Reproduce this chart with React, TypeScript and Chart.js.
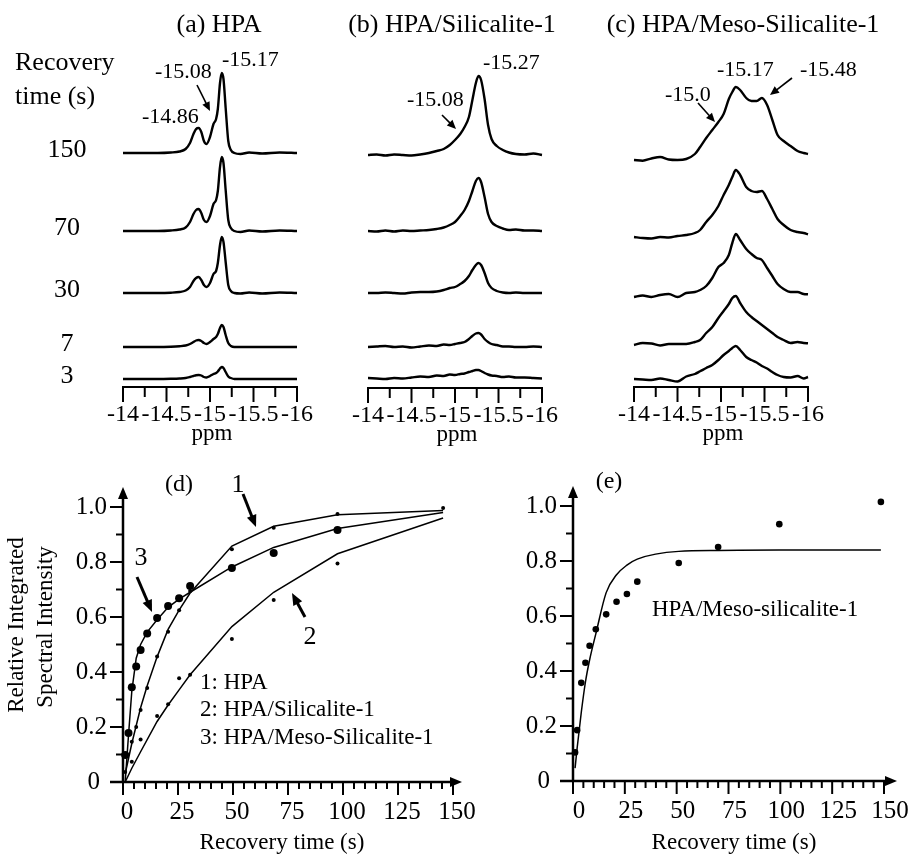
import React, { useEffect, useRef } from 'react';
import { Chart, registerables } from 'chart.js';

Chart.register(...registerables);

const W = 915;
const H = 854;
const SERIF = '"Liberation Serif", "Times New Roman", Times, serif';

// ================= DATA =================
// Recovery times labelling the stacked spectra (top to bottom)
const recoveryLabels = ['150', '70', '30', '7', '3'];

// (a) HPA  – chemical shift (ppm) and intensities (a.u.) per recovery time
const ppmA = [-14, -14.2, -14.4, -14.55, -14.65, -14.72, -14.77, -14.81, -14.84, -14.87, -14.9, -14.93, -14.96, -15.0, -15.04, -15.07, -15.09, -15.115, -15.135, -15.155, -15.18, -15.21, -15.24, -15.28, -15.35, -15.45, -15.6, -15.8, -16];
const hpa150 = [0, 0, 0, 0.5, 1.5, 4, 10, 19, 24, 25, 21, 12, 9, 16, 29, 34, 44, 70, 80, 74, 45, 12, 3, 0, -1, 0.5, -0.5, 0.5, 0];
const hpa70 = [0, 0, 0, 0.5, 1.5, 3.5, 9, 17, 21, 22, 18, 11, 9, 15, 27, 31, 40, 64, 74, 68, 41, 11, 3, 0, -1, 0.5, -0.5, 0.5, 0];
const hpa30 = [0, 0, 0, 0.3, 1, 2.5, 6, 12, 15, 16, 13, 8, 6, 10, 19, 22, 30, 48, 56, 51, 31, 8, 2, 0, -0.5, 0.5, -0.5, 0.5, 0];
const hpa7 = [0, 0, 0, 0.3, 0.8, 1.5, 3, 5, 6.5, 7, 6, 4, 3, 5, 8, 10, 13, 19, 22, 20, 12, 4, 1, 0, 0, 0, 0, 0, 0];
const hpa3 = [0, 0, 0, 0.2, 0.5, 1, 2, 3, 3.8, 4, 3.5, 2, 1.5, 3, 5, 6, 7.5, 10.5, 12, 11, 7, 2.5, 1, 0, 0, 0, 0, 0, 0];

// (b) HPA/Silicalite-1
const ppmB = [-14, -14.1, -14.2, -14.3, -14.4, -14.5, -14.6, -14.7, -14.79, -14.87, -14.94, -15.0, -15.06, -15.11, -15.16, -15.2, -15.24, -15.27, -15.3, -15.34, -15.38, -15.42, -15.48, -15.55, -15.62, -15.7, -15.8, -15.9, -16];
const sil150 = [0, 0.5, -0.5, 0.5, 0, -0.5, 0.5, 2, 4, 6, 10, 15, 21, 28, 38, 55, 72, 79, 75, 56, 30, 16, 9, 5, 2.5, 1, 0.5, 1.5, 0];
const sil70 = [0, -0.5, 0.5, -0.5, 0.5, 0, 0.5, 1, 2, 3.5, 6, 9, 15, 21, 30, 40, 50, 53, 49, 34, 17, 9, 5, 2.5, 1, 1.5, 0.5, 0.5, 0];
const sil30 = [0, 0, 0.5, 0, -0.5, 0.5, 1, 1, 1.5, 3, 5, 6, 9, 12, 17, 23, 28, 30, 28, 20, 10, 5, 2, 0.5, 0, 0.5, 0, 0, 0];
const sil7 = [0, 0.5, 1, 0, 0.5, -0.5, 0.5, 1.5, 1, 2.5, 2, 3, 4, 5, 8, 11, 13.5, 14, 12.5, 8, 5, 3, 2, 0.5, 0.5, 0, 0, 0.5, 0];
const sil3 = [0, -0.5, -1, 0, -0.5, 0.5, 1.5, 1, 2.5, 2, 3.5, 3, 4, 4.5, 6, 7, 8, 8, 7, 5, 3.5, 2.5, 2, 1, 1.5, 0.5, 0.5, 0, -0.5];

// (c) HPA/Meso-Silicalite-1
const ppmC = [-14, -14.1, -14.2, -14.3, -14.4, -14.5, -14.6, -14.7, -14.76, -14.83, -14.9, -14.97, -15.03, -15.09, -15.13, -15.17, -15.22, -15.29, -15.35, -15.41, -15.47, -15.53, -15.59, -15.65, -15.72, -15.8, -15.88, -15.95, -16];
const meso150 = [0, -0.7, 1.5, 3, 0.5, 0, 1, 6, 13, 22, 30, 38, 46, 61, 68, 73, 70, 62, 59, 59, 62, 55, 40, 25, 19, 14, 9, 7, 6];
const meso70 = [0, -1, -1.5, 0, -0.5, 1, 2, 4, 7, 15, 22, 31, 42, 52, 60, 67, 62, 50, 46, 45, 46, 38, 28, 18, 12, 7, 5, 4, 2.7];
const meso30 = [0, 1.5, 0, 2, 3, 0, 4, 5, 7, 11, 19, 30, 34, 42, 54, 63, 57, 48, 43, 39, 37, 29, 21, 13, 8, 5, 5, 3, 2.7];
const meso7 = [0, 2, 1.5, -0.5, 1, 1, 1, 3, 5, 12, 18, 27, 34, 41, 47, 49, 42, 33, 28, 24, 20, 16, 12, 8, 5, 2, 3, 2, 1.7];
const meso3 = [0, -0.5, -1, 0.5, -1, -2.5, 2.5, 5, 7.7, 11, 14, 19, 24, 28, 31, 33, 29, 22, 19, 16.5, 13, 10.5, 7, 4, 2, 1.5, 3, 0.5, 2];

// (d) relative integrated intensity vs recovery time (s)
const timeD = [1, 2.5, 4, 6, 8, 11, 15.5, 20.5, 25.5, 30.5, 49.5, 68.5, 97.5, 145.5];
const hpaDotsD = [0.036, null, 0.146, 0.2, 0.262, 0.342, 0.456, 0.546, 0.625, 0.695, 0.846, 0.925, 0.975, 0.996];
const silDotsD = [null, null, 0.074, null, 0.155, null, 0.24, 0.283, 0.377, 0.39, 0.52, 0.662, 0.795, null];
const mesoDotsD = [0.098, 0.178, 0.345, 0.42, 0.48, 0.54, 0.596, 0.64, 0.668, 0.713, 0.778, 0.833, 0.916, null];
const fitHpaT = [1, 4, 8, 11, 15.5, 20.5, 25.5, 30.5, 49.5, 68.5, 97.5, 145.5];
const fitHpaV = [0.03, 0.14, 0.27, 0.35, 0.455, 0.555, 0.625, 0.687, 0.858, 0.93, 0.972, 0.987];
const fitSilT = [1, 4, 8, 15.5, 20.5, 25.5, 30.5, 49.5, 68.5, 97.5, 145.5];
const fitSilV = [0.0, 0.05, 0.11, 0.22, 0.28, 0.335, 0.39, 0.565, 0.69, 0.83, 0.96];
const fitMesoT = [1, 2.5, 4, 6, 8, 11, 15.5, 20.5, 25.5, 30.5, 49.5, 68.5, 97.5, 145.5];
const fitMesoV = [0.0, 0.17, 0.33, 0.45, 0.5, 0.545, 0.59, 0.635, 0.665, 0.69, 0.782, 0.853, 0.922, 0.98];

// (e) HPA/Meso-silicalite-1
const timeE = [1, 2, 4, 6, 8, 11, 16, 21, 26, 31, 51, 70, 99.5, 148.5];
const mesoDotsE = [0.104, 0.185, 0.357, 0.43, 0.492, 0.552, 0.606, 0.652, 0.68, 0.725, 0.793, 0.851, 0.934, 1.015];
const fitET = [1, 2, 4, 6, 8, 11, 16, 21, 26, 31, 51, 70, 99.5, 148.5];
const fitEV = [0.047, 0.12, 0.25, 0.36, 0.44, 0.535, 0.685, 0.75, 0.785, 0.807, 0.835, 0.838, 0.84, 0.84];

// tick labels
const ppmTickValues = [-14, -14.25, -14.5, -14.75, -15, -15.25, -15.5, -15.75, -16];
const ppmTickLabels = ['-14', '', '-14.5', '', '-15', '', '-15.5', '', '-16'];
const timeTickLabels = ['0', '25', '50', '75', '100', '125', '150'];
const intensityTickLabels = ['0', '0.2', '0.4', '0.6', '0.8', '1.0'];

// ================= LAYOUT =================
type Area = { l: number; t: number; r: number; b: number };
type Ann = { t: string; x: number; y: number; size: number; align?: CanvasTextAlign; rot?: number };
type Arr = { x1: number; y1: number; x2: number; y2: number; w: number; head: number; hw: number };

// vertical stacking of traces (units above the ppm axis)
const STACK_A = [234, 156, 94, 40, 8];
const STACK_B = [233, 157, 95, 41, 10];
const STACK_C = [227, 150, 90, 42, 8];

// kinetic plots: y range shown above 1.0 so that points slightly above 1 are kept
const KIN_YMAX = 1.1;
const KIN_UNIT = 275; // px per 1.0 of intensity

function drawText(ctx: CanvasRenderingContext2D, a: Ann) {
  ctx.save();
  ctx.font = `${a.size}px ${SERIF}`;
  ctx.fillStyle = '#000';
  ctx.textAlign = a.align ?? 'center';
  ctx.textBaseline = 'middle';
  if (a.rot) {
    ctx.translate(a.x, a.y);
    ctx.rotate(a.rot);
    ctx.fillText(a.t, 0, 0);
  } else {
    ctx.fillText(a.t, a.x, a.y);
  }
  ctx.restore();
}

function drawArrow(ctx: CanvasRenderingContext2D, a: Arr) {
  const dx = a.x2 - a.x1;
  const dy = a.y2 - a.y1;
  const L = Math.hypot(dx, dy);
  const ux = dx / L;
  const uy = dy / L;
  const bx = a.x2 - ux * a.head;
  const by = a.y2 - uy * a.head;
  ctx.save();
  ctx.strokeStyle = '#000';
  ctx.fillStyle = '#000';
  ctx.lineWidth = a.w;
  ctx.lineCap = 'butt';
  ctx.beginPath();
  ctx.moveTo(a.x1, a.y1);
  ctx.lineTo(bx + ux, by + uy);
  ctx.stroke();
  ctx.beginPath();
  ctx.moveTo(a.x2, a.y2);
  ctx.lineTo(bx - uy * a.hw, by + ux * a.hw);
  ctx.lineTo(bx + uy * a.hw, by - ux * a.hw);
  ctx.closePath();
  ctx.fill();
  ctx.restore();
}

function seg(ctx: CanvasRenderingContext2D, x1: number, y1: number, x2: number, y2: number, w: number) {
  ctx.save();
  ctx.strokeStyle = '#000';
  ctx.lineWidth = w;
  ctx.lineCap = 'butt';
  ctx.beginPath();
  ctx.moveTo(x1, y1);
  ctx.lineTo(x2, y2);
  ctx.stroke();
  ctx.restore();
}

type SpectraPanel = {
  key: string;
  area: Area;
  ppm: number[];
  traces: number[][];
  stack: number[];
  anns: Ann[];
  arrows: Arr[];
  rowLabels?: boolean;
};

const PANELS: SpectraPanel[] = [
  {
    key: 'a',
    area: { l: 123, t: 57, r: 297, b: 387 },
    ppm: ppmA,
    traces: [hpa150, hpa70, hpa30, hpa7, hpa3],
    stack: STACK_A,
    rowLabels: true,
    anns: [
      { t: '(a) HPA', x: 219, y: 25, size: 26 },
      { t: 'Recovery', x: 15, y: 63, size: 26, align: 'left' },
      { t: 'time (s)', x: 15, y: 97, size: 26, align: 'left' },
      { t: '-15.17', x: 222, y: 60, size: 22, align: 'left' },
      { t: '-15.08', x: 155, y: 72, size: 22, align: 'left' },
      { t: '-14.86', x: 142, y: 117, size: 22, align: 'left' },
    ],
    arrows: [{ x1: 197, y1: 85, x2: 210, y2: 111, w: 1.6, head: 9, hw: 4 }],
  },
  {
    key: 'b',
    area: { l: 368, t: 58, r: 542, b: 388 },
    ppm: ppmB,
    traces: [sil150, sil70, sil30, sil7, sil3],
    stack: STACK_B,
    anns: [
      { t: '(b) HPA/Silicalite-1', x: 452, y: 25, size: 26 },
      { t: '-15.27', x: 483, y: 63, size: 22, align: 'left' },
      { t: '-15.08', x: 407, y: 100, size: 22, align: 'left' },
    ],
    arrows: [{ x1: 442, y1: 115, x2: 456, y2: 129, w: 1.6, head: 9, hw: 4 }],
  },
  {
    key: 'c',
    area: { l: 634, t: 57, r: 808, b: 387 },
    ppm: ppmC,
    traces: [meso150, meso70, meso30, meso7, meso3],
    stack: STACK_C,
    anns: [
      { t: '(c) HPA/Meso-Silicalite-1', x: 743, y: 25, size: 26 },
      { t: '-15.17', x: 717, y: 70, size: 22, align: 'left' },
      { t: '-15.48', x: 800, y: 70, size: 22, align: 'left' },
      { t: '-15.0', x: 665, y: 95, size: 22, align: 'left' },
    ],
    arrows: [
      { x1: 698, y1: 103, x2: 715, y2: 122, w: 1.6, head: 9, hw: 4 },
      { x1: 792, y1: 78, x2: 770, y2: 95, w: 1.6, head: 9, hw: 4 },
    ],
  },
];

function spectraPlugin(p: SpectraPanel) {
  return {
    id: 'spectraDecor' + p.key,
    afterDraw(chart: any) {
      const ctx: CanvasRenderingContext2D = chart.ctx;
      const xs = chart.scales.x;
      const ys = chart.scales.y;
      const y0 = ys.getPixelForValue(0);
      seg(ctx, xs.getPixelForValue(-14) - 1, y0, xs.getPixelForValue(-16) + 1, y0, 2.2);
      ppmTickValues.forEach((v, i) => {
        const px = xs.getPixelForValue(v);
        const major = ppmTickLabels[i] !== '';
        seg(ctx, px, y0, px, y0 + (major ? 15 : 10), 2);
        if (major) drawText(ctx, { t: ppmTickLabels[i], x: px, y: y0 + 28, size: 24 });
      });
      drawText(ctx, { t: 'ppm', x: xs.getPixelForValue(-15) + 2, y: y0 + 47, size: 23 });
      if (p.rowLabels) {
        recoveryLabels.forEach((lab, k) => {
          drawText(ctx, { t: lab, x: 67, y: ys.getPixelForValue(p.stack[k]) - 3, size: 26 });
        });
      }
      p.anns.forEach((a) => drawText(ctx, a));
      p.arrows.forEach((a) => drawArrow(ctx, a));
    },
  };
}

type KineticPanel = {
  key: string;
  x0: number; // pixel of t = 0
  x150: number; // pixel of t = 150
  y0: number; // pixel of intensity 0
  xTip: number;
  labelOffset: number;
  datasets: any[];
  anns: Ann[];
  arrows: Arr[];
};

const dots = (t: number[], v: (number | null)[], r: number) => ({
  data: t.map((x, i) => ({ x, y: v[i] })).filter((p) => p.y !== null),
  showLine: false,
  pointRadius: r,
  pointHoverRadius: r,
  pointBackgroundColor: '#000',
  pointBorderColor: '#000',
  pointBorderWidth: 0,
  clip: false,
});

const fit = (t: number[], v: number[], smooth: boolean) => ({
  data: t.map((x, i) => ({ x, y: v[i] })),
  showLine: true,
  borderColor: '#000',
  borderWidth: 1.5,
  pointRadius: 0,
  pointHoverRadius: 0,
  tension: 0,
  cubicInterpolationMode: smooth ? 'monotone' : 'default',
  fill: false,
  clip: false,
});

const KINETIC: KineticPanel[] = [
  {
    key: 'd',
    x0: 123,
    x150: 453,
    y0: 782,
    xTip: 462,
    labelOffset: 4,
    datasets: [
      fit(fitHpaT, fitHpaV, false),
      fit(fitSilT, fitSilV, false),
      fit(fitMesoT, fitMesoV, false),
      dots(timeD, hpaDotsD, 2),
      dots(timeD, silDotsD, 2),
      dots(timeD, mesoDotsD, 4),
    ],
    anns: [
      { t: '(d)', x: 179, y: 485, size: 24 },
      { t: '1', x: 238, y: 485, size: 26 },
      { t: '3', x: 141, y: 558, size: 26 },
      { t: '2', x: 310, y: 637, size: 26 },
      { t: '1: HPA', x: 200, y: 683, size: 23, align: 'left' },
      { t: '2: HPA/Silicalite-1', x: 200, y: 710, size: 23, align: 'left' },
      { t: '3: HPA/Meso-Silicalite-1', x: 200, y: 738, size: 23, align: 'left' },
      { t: 'Relative Integrated', x: 17, y: 625, size: 23, rot: -Math.PI / 2 },
      { t: 'Spectral Intensity', x: 46, y: 627, size: 23, rot: -Math.PI / 2 },
      { t: 'Recovery time (s)', x: 282, y: 843, size: 23 },
    ],
    arrows: [
      { x1: 243, y1: 494, x2: 256, y2: 527, w: 3, head: 12, hw: 5 },
      { x1: 137, y1: 577, x2: 152, y2: 612, w: 3, head: 12, hw: 5 },
      { x1: 305, y1: 617, x2: 292, y2: 593, w: 3, head: 12, hw: 5 },
    ],
  },
  {
    key: 'e',
    x0: 573,
    x150: 884,
    y0: 781,
    xTip: 897,
    labelOffset: 6,
    datasets: [fit(fitET, fitEV, true), dots(timeE, mesoDotsE, 3.3)],
    anns: [
      { t: '(e)', x: 609, y: 482, size: 24 },
      { t: 'HPA/Meso-silicalite-1', x: 652, y: 610, size: 23, align: 'left' },
      { t: 'Recovery time (s)', x: 734, y: 843, size: 23 },
    ],
    arrows: [],
  },
];

function kineticPlugin(p: KineticPanel) {
  return {
    id: 'kineticDecor' + p.key,
    afterDraw(chart: any) {
      const ctx: CanvasRenderingContext2D = chart.ctx;
      const xs = chart.scales.x;
      const ys = chart.scales.y;
      const x0 = xs.getPixelForValue(0);
      const y0 = ys.getPixelForValue(0);
      const yTip = ys.getPixelForValue(1) - 20;
      // axes
      seg(ctx, x0 - 13, y0, p.xTip - 10, y0, 2.5);
      seg(ctx, x0, y0, x0, yTip + 10, 2.5);
      drawArrow(ctx, { x1: p.xTip - 12, y1: y0, x2: p.xTip, y2: y0, w: 2.5, head: 12, hw: 5 });
      drawArrow(ctx, { x1: x0, y1: yTip + 12, x2: x0, y2: yTip, w: 2.5, head: 12, hw: 5 });
      // x ticks
      for (let t = 0; t <= 150; t += 5) {
        const px = xs.getPixelForValue(t);
        const major = t % 25 === 0;
        seg(ctx, px, y0, px, y0 + (major ? 13 : 7), 2);
      }
      timeTickLabels.forEach((lab, i) => {
        const px = xs.getPixelForValue(i * 25);
        drawText(ctx, { t: lab, x: px + p.labelOffset, y: y0 + 30, size: 25 });
      });
      // y ticks
      for (let k = 1; k <= 10; k++) {
        const py = ys.getPixelForValue(k / 10);
        const major = k % 2 === 0;
        seg(ctx, x0 - (major ? 13 : 7), py, x0, py, 2);
      }
      intensityTickLabels.forEach((lab, i) => {
        const py = ys.getPixelForValue(i * 0.2);
        const right = i === 0 ? x0 - 23 : x0 - 16;
        drawText(ctx, { t: lab, x: right, y: py, size: 25, align: 'right' });
      });
      p.anns.forEach((a) => drawText(ctx, a));
      p.arrows.forEach((a) => drawArrow(ctx, a));
    },
  };
}

function baseOptions(area: Area, x: any, y: any) {
  return {
    animation: false,
    responsive: false,
    maintainAspectRatio: false,
    devicePixelRatio: 1,
    events: [],
    layout: { padding: { left: area.l, top: area.t, right: W - area.r, bottom: H - area.b } },
    scales: { x: { type: 'linear', display: false, ...x }, y: { type: 'linear', display: false, ...y } },
    plugins: { legend: { display: false }, tooltip: { enabled: false }, title: { display: false } },
  };
}

function buildSpectra(canvas: HTMLCanvasElement, p: SpectraPanel) {
  const datasets = p.traces.map((vals, k) => ({
    data: p.ppm.map((x, i) => ({ x, y: p.stack[k] + vals[i] })),
    showLine: true,
    borderColor: '#000',
    borderWidth: 2.4,
    pointRadius: 0,
    pointHoverRadius: 0,
    cubicInterpolationMode: 'monotone',
    fill: false,
    clip: false,
  }));
  return new Chart(canvas, {
    type: 'scatter',
    data: { datasets },
    options: baseOptions(p.area, { min: -16, max: -14, reverse: true }, { min: 0, max: p.area.b - p.area.t }) as any,
    plugins: [spectraPlugin(p)],
  } as any);
}

function buildKinetic(canvas: HTMLCanvasElement, p: KineticPanel) {
  const area: Area = { l: p.x0, r: p.x150, b: p.y0, t: p.y0 - KIN_YMAX * KIN_UNIT };
  return new Chart(canvas, {
    type: 'scatter',
    data: { datasets: p.datasets },
    options: baseOptions(area, { min: 0, max: 150 }, { min: 0, max: KIN_YMAX }) as any,
    plugins: [kineticPlugin(p)],
  } as any);
}

function Layer({ build }: { build: (c: HTMLCanvasElement) => Chart }) {
  const ref = useRef<HTMLCanvasElement>(null);
  useEffect(() => {
    const chart = build(ref.current as HTMLCanvasElement);
    return () => chart.destroy();
  }, []);
  return (
    <canvas
      ref={ref}
      width={W}
      height={H}
      style={{ position: 'absolute', left: 0, top: 0, width: W, height: H }}
    />
  );
}

export default function App() {
  return (
    <div
      style={{
        position: 'absolute',
        left: 0,
        top: 0,
        width: W,
        height: H,
        background: '#fff',
        overflow: 'hidden',
      }}
    >
      {PANELS.map((p) => (
        <Layer key={p.key} build={(c) => buildSpectra(c, p)} />
      ))}
      {KINETIC.map((p) => (
        <Layer key={p.key} build={(c) => buildKinetic(c, p)} />
      ))}
    </div>
  );
}
